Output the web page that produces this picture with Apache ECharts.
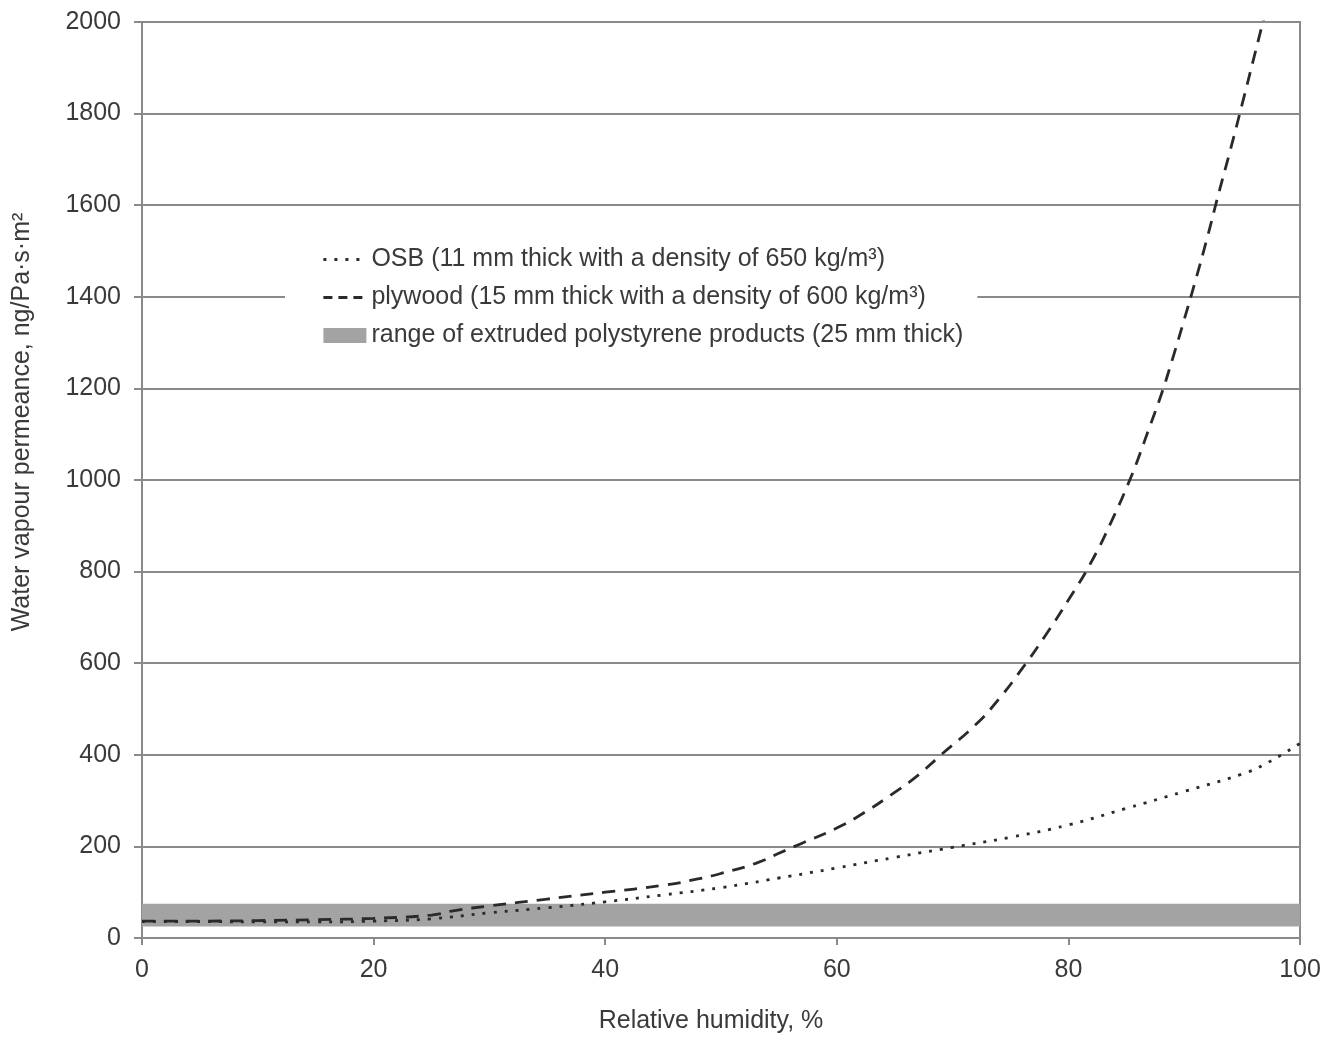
<!DOCTYPE html>
<html>
<head>
<meta charset="utf-8">
<script src="https://cdn.jsdelivr.net/npm/echarts@6/dist/echarts.min.js"></script>
<style>
html,body{margin:0;padding:0;background:#fff;}
#chart{width:1331px;height:1040px;}
</style>
</head>
<body>
<div id="chart"></div>
<script>
// Relative humidity (%) and permeance (ng/Pa·s·m²)
var osbRH = [0, 5, 10, 15, 20, 25, 30, 35, 40, 45, 50, 55, 60, 65, 70, 75, 80, 85, 90, 95, 97, 100];
var osbValues = [36, 36, 35, 35, 37, 42, 55, 66, 79, 94, 110, 131, 153, 176, 198, 220, 247, 283, 320, 358, 380, 425];

var plyRH = [0, 5, 10, 15, 20, 25, 27, 30, 35, 40, 45, 48, 50, 53, 55, 57, 60, 62, 65, 67, 69, 72, 74, 76, 78, 80, 82, 84, 85.3, 86, 87, 88, 89, 90, 91, 92, 93, 94, 95, 96, 97];
var plyValues = [37, 37, 38, 40, 43, 50, 60, 70, 85, 100, 115, 129, 141, 163, 185, 207, 240, 268, 318, 355, 400, 466, 522, 588, 660, 738, 822, 925, 1000, 1045, 1115, 1185, 1265, 1350, 1438, 1530, 1628, 1722, 1820, 1920, 2020];

var bandRH = [0, 100];
var bandLow = 25;
var bandHigh = 75;

var xTicks = {min: 0, max: 100, interval: 20};
var yTicks = {min: 0, max: 2000, interval: 200};

var names = {
  osb: 'OSB (11 mm thick with a density of 650 kg/m\u00B3)',
  ply: 'plywood (15 mm thick with a density of 600 kg/m\u00B3)',
  band: 'range of extruded polystyrene products (25 mm thick)'
};

function pairs(xs, ys) { return xs.map(function (x, i) { return [x, ys[i]]; }); }

var FONT = '"Liberation Sans", Arial, sans-serif';
var FS = 25;
var TXT = '#3a3a3a';
var GRID = '#8a8a8a';
var LINE = '#2a2a2a';
var BAND = '#a3a3a3';
var OSB_DASH = [3, 8];
var PLY_DASH = [13, 9];
var LW = 2.8;

var chart = echarts.init(document.getElementById('chart'), null, {renderer: 'canvas'});
chart.setOption({
  animation: false,
  backgroundColor: '#fff',
  textStyle: {fontFamily: FONT},
  grid: {left: 142, right: 31, top: 22, bottom: 102, show: true, borderColor: GRID, borderWidth: 2, backgroundColor: 'transparent'},
  legend: {
    orient: 'vertical',
    left: 285, top: 241,
    backgroundColor: '#fff',
    padding: [6, 14, 6, 37],
    itemGap: 13,
    itemWidth: 43, itemHeight: 15,
    textStyle: {fontSize: FS, color: TXT, fontFamily: FONT},
    data: [
      {name: names.osb, itemStyle: {opacity: 0}, lineStyle: {type: OSB_DASH, width: LW, color: LINE}},
      {name: names.ply, itemStyle: {opacity: 0}, lineStyle: {type: [9, 6], width: LW, color: LINE}},
      {name: names.band, icon: 'rect', itemStyle: {color: BAND, opacity: 1}}
    ]
  },
  xAxis: {
    type: 'value', min: xTicks.min, max: xTicks.max, interval: xTicks.interval,
    name: 'Relative humidity, %', nameLocation: 'middle', nameGap: 71,
    nameTextStyle: {fontSize: FS, color: TXT, fontFamily: FONT, padding: [0, 20, 0, 0]},
    axisLine: {show: true, lineStyle: {color: GRID, width: 2}},
    axisTick: {show: true, inside: false, length: 7, lineStyle: {color: GRID, width: 2}},
    axisLabel: {fontSize: FS, color: TXT, margin: 20, fontFamily: FONT},
    splitLine: {show: false}
  },
  yAxis: {
    type: 'value', min: yTicks.min, max: yTicks.max, interval: yTicks.interval,
    axisLine: {show: true, lineStyle: {color: GRID, width: 2}},
    axisTick: {show: true, inside: false, length: 8, lineStyle: {color: GRID, width: 2}},
    axisLabel: {fontSize: FS, color: TXT, margin: 21, fontFamily: FONT, formatter: function (v) { return String(v); }},
    splitLine: {show: true, lineStyle: {color: GRID, width: 2}}
  },
  graphic: [{
    type: 'text',
    x: 22, y: 422,
    rotation: Math.PI / 2,
    style: {
      text: 'Water vapour permeance, ng/Pa\u00B7s\u00B7m\u00B2',
      fontSize: FS, fill: TXT, fontFamily: FONT,
      align: 'center', verticalAlign: 'middle'
    }
  }],
  series: [
    {
      name: names.band, type: 'line', symbol: 'none', silent: true, z: 1,
      data: [],
      itemStyle: {color: BAND},
      lineStyle: {color: BAND},
      markArea: {
        silent: true,
        itemStyle: {color: BAND, opacity: 1},
        data: [[{coord: [bandRH[0], bandLow]}, {coord: [bandRH[1], bandHigh]}]]
      }
    },
    {
      name: names.osb, type: 'line', symbol: 'none', smooth: 0.5, z: 3,
      data: pairs(osbRH, osbValues),
      itemStyle: {color: LINE},
      lineStyle: {color: LINE, width: LW, type: OSB_DASH}
    },
    {
      name: names.ply, type: 'line', symbol: 'none', smooth: 0.5, z: 3, clip: true,
      data: pairs(plyRH, plyValues),
      itemStyle: {color: LINE},
      lineStyle: {color: LINE, width: LW, type: PLY_DASH}
    }
  ]
});
</script>
</body>
</html>
